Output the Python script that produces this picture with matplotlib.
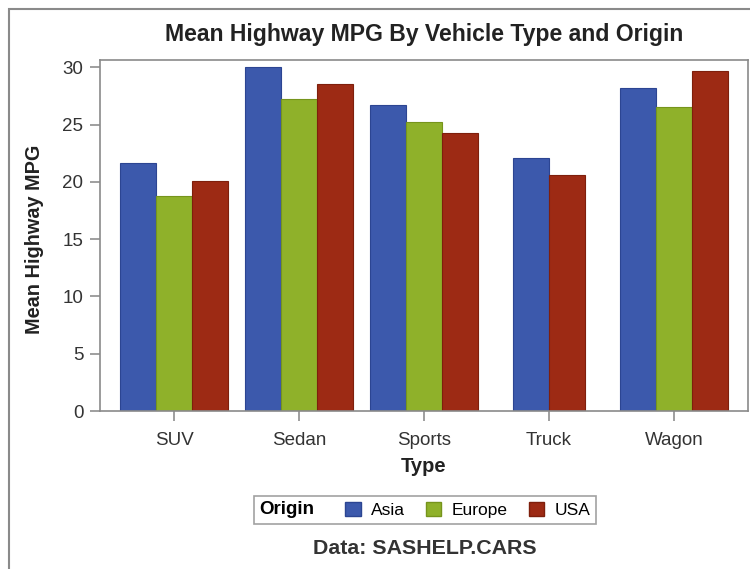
import numpy as np
import matplotlib
matplotlib.use('Agg')
import matplotlib.pyplot as plt
from matplotlib.patches import Patch, Rectangle
from matplotlib.offsetbox import HPacker

# Data
types = ['SUV', 'Sedan', 'Sports', 'Truck', 'Wagon']
origins = ['Asia', 'Europe', 'USA']
asia = [21.65, 30.0, 26.7, 22.1, 28.2]
europe = [18.75, 27.2, 25.2, np.nan, 26.55]
usa = [20.05, 28.55, 24.25, 20.6, 29.7]

COLORS = ['#3c59ac', '#8fb12a', '#9d2a14']
EDGES = ['#2c4592', '#76941c', '#7e1f0c']
plt.rcParams['font.family'] = ['Liberation Sans', 'DejaVu Sans']

fig = plt.figure(figsize=(7.5, 5.69), dpi=100)
ax = fig.add_axes([100 / 750, 1 - 411 / 569, 648 / 750, 351 / 569])

series = [asia, europe, usa]
width = 0.288
for i, t in enumerate(types):
    # SAS centres the cluster on what is present (Truck has no Europe bar)
    present = [k for k in range(len(origins)) if not np.isnan(series[k][i])]
    n = len(present)
    for j, k in enumerate(present):
        off = (j - (n - 1) / 2) * width
        ax.bar(i + off, series[k][i], width=width, color=COLORS[k],
               edgecolor=EDGES[k], linewidth=0.8, zorder=2)

ax.set_xlim(-0.592, 4.592)
ax.set_ylim(0, 30.64)
ax.set_xticks(range(len(types)))
ax.set_xticklabels(types)
ax.set_yticks([0, 5, 10, 15, 20, 25, 30])
ax.tick_params(axis='both', colors='#8f8f8f', labelcolor='#333333',
               labelsize=13.5, length=7, width=1.2)
ax.tick_params(axis='x', pad=8)
ax.tick_params(axis='y', pad=5)
for s in ax.spines.values():
    s.set_color('#8a8a8a')
    s.set_linewidth(1.2)

ax.set_xlabel('Type', fontsize=14.5, fontweight='bold', color='#222222', va='center')
ax.xaxis.set_label_coords(0.5, (411 - 467) / 351)
ax.set_ylabel('Mean Highway MPG', fontsize=14.3, fontweight='bold', color='#222222', va='center')
ax.yaxis.set_label_coords((35 - 100) / 648, 0.49)

fig.text(424 / 750, 1 - 35 / 569, 'Mean Highway MPG By Vehicle Type and Origin',
         ha='center', va='center', fontsize=16.6, fontweight='bold', color='#222222')

handles = [Patch(facecolor=c, edgecolor=e, label=o) for c, e, o in zip(COLORS, EDGES, origins)]
leg = fig.legend(handles=handles, loc='center', bbox_to_anchor=(425 / 750, 1 - 510 / 569),
                 ncol=3, frameon=True, fontsize=12.5, title='Origin', handlelength=0.9,
                 handleheight=0.9, handletextpad=0.6, columnspacing=1.2, borderpad=0.3,
                 fancybox=False)
leg.get_frame().set_edgecolor('#8a8a8a')
leg.get_frame().set_linewidth(1.2)
leg.get_title().set_fontweight('bold')
leg.get_title().set_fontsize(13.5)
# title to the left of the entries, as in the SAS legend
title_box = leg._legend_title_box
body = leg._legend_box._children[1]
leg._legend_box._children = [HPacker(pad=0, sep=22, align='center', children=[title_box, body])]

fig.text(425 / 750, 1 - 548 / 569, 'Data: SASHELP.CARS', ha='center', va='center',
         fontsize=15.4, fontweight='bold', color='#333333')

# outer frame of the original graph image
fig.add_artist(Rectangle((9 / 750, -0.1), 1.2, 1 - 9 / 569 + 0.1, transform=fig.transFigure,
                         fill=False, edgecolor='#8a8a8a', linewidth=1.5))

fig.savefig('out.png', dpi=100)
